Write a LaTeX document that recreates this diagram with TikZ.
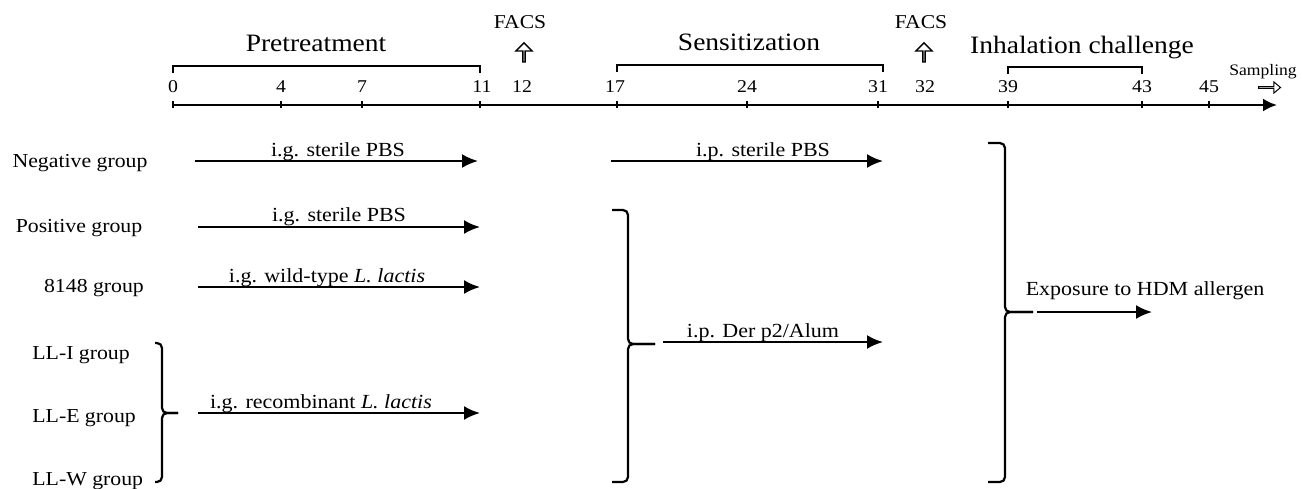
\documentclass[tikz,border=0pt]{standalone}
\usepackage{fontspec}
\setmainfont[FakeStretch=1.1]{Liberation Serif}
\usetikzlibrary{arrows.meta,shapes.arrows}

\begin{document}
\begin{tikzpicture}[x=0.5pt,y=-0.5pt]
% Styles
\tikzstyle{fleche}=[-{Latex[length=8pt,width=7pt]},line width=1.1pt]
\tikzstyle{axe}=[-{Latex[length=7pt,width=6.5pt]},line width=1.2pt]
\tikzstyle{graduation}=[line width=1pt]
\tikzstyle{periode}=[line width=1.2pt]
\tikzstyle{accolade}=[line width=1.1pt,rounded corners=2.5pt]
\tikzstyle{groupe}=[font=\fontsize{9.9pt}{12pt}\selectfont,anchor=base,inner sep=0pt]
\tikzstyle{etiquette}=[font=\fontsize{10pt}{12pt}\selectfont,anchor=base,inner sep=0pt]
\tikzstyle{titre}=[font=\fontsize{12.5pt}{15pt}\selectfont,anchor=base,inner sep=0pt]
\tikzstyle{jour}=[font=\fontsize{9pt}{11pt}\selectfont,anchor=base,inner sep=0pt]
\tikzstyle{facs}=[font=\fontsize{9.8pt}{12pt}\selectfont,anchor=base,inner sep=0pt]
\tikzstyle{prelevement}=[font=\fontsize{8pt}{10pt}\selectfont,anchor=base,inner sep=0pt]
\tikzstyle{creuse}=[draw,fill=white,single arrow,line width=0.7pt,inner sep=0pt,
  single arrow head extend=2.2pt,single arrow tip angle=90]
\useasboundingbox (0,0) rectangle (1302,488);
% Axe du temps
\coordinate (Debut) at (173,105);
\coordinate (Fin) at (1277,105);
\draw[axe] (Debut) -- (Fin);
\draw[graduation] (173,101) -- (173,108);
\draw[graduation] (281,101) -- (281,108);
\draw[graduation] (362,101) -- (362,108);
\draw[graduation] (480,101) -- (480,108);
\draw[graduation] (617,101) -- (617,108);
\draw[graduation] (747,101) -- (747,108);
\draw[graduation] (878,101) -- (878,108);
\draw[graduation] (1008,101) -- (1008,108);
\draw[graduation] (1142,101) -- (1142,108);
\draw[graduation] (1209,101) -- (1209,108);
\node[jour] (J0) at (173,92) {0};
\node[jour] (J4) at (281,92) {4};
\node[jour] (J7) at (362,92) {7};
\node[jour] (J11) at (482,92) {11};
\node[jour] (J12) at (522,92) {12};
\node[jour] (J17) at (615,92) {17};
\node[jour] (J24) at (747,92) {24};
\node[jour] (J31) at (878,92) {31};
\node[jour] (J32) at (925,92) {32};
\node[jour] (J39) at (1008,92) {39};
\node[jour] (J43) at (1142,92) {43};
\node[jour] (J45) at (1209,92) {45};
% Periodes
\draw[periode] (173,73) -- (173,66) -- (480,66) -- (480,73);
\draw[periode] (617,72) -- (617,65) -- (883,65) -- (883,72);
\draw[periode] (1008,74) -- (1008,67) -- (1142,67) -- (1142,74);
\node[titre] (Pre) at (316,51) {Pretreatment};
\node[titre] (Sens) at (749,50) {Sensitization};
\node[titre] (Inh) at (1082,53) {Inhalation challenge};
\node[facs] (FacsA) at (520,28) {FACS};
\node[facs] (FacsB) at (921,28) {FACS};
\node[creuse,rotate=90,minimum height=9.5pt,minimum width=8pt] (FlA) at (524,53) {};
\node[creuse,rotate=90,minimum height=9.5pt,minimum width=8pt] (FlB) at (924,53) {};
\node[prelevement] (Samp) at (1263,75) {Sampling};
\node[creuse,line width=0.5pt,minimum height=11pt,minimum width=5.5pt,
  single arrow head extend=1.3pt,single arrow tip angle=80] (FlC) at (1269,87.5) {};
% Groupes
\node[groupe] (Neg) at (80,167) {Negative group};
\node[groupe] (Pos) at (79,232) {Positive group};
\node[groupe] (G8148) at (94,292) {8148 group};
\node[groupe,anchor=base west] (LLI) at (32,359) {LL-I group};
\node[groupe,anchor=base west] (LLE) at (32,422) {LL-E group};
\node[groupe,anchor=base west] (LLW) at (32,485) {LL-W group};
% Accolades
\draw[accolade] (155,343) -- (162,343) -- (162,413) -- (178,413);
\draw[accolade] (155,482) -- (162,482) -- (162,413) -- (178,413);
\draw[accolade] (612,210) -- (628,210) -- (628,344) -- (655,344);
\draw[accolade] (612,482) -- (628,482) -- (628,344) -- (655,344);
\draw[accolade] (988,143) -- (1005,143) -- (1005,312) -- (1033,312);
\draw[accolade] (988,482) -- (1005,482) -- (1005,312) -- (1033,312);
% Fleches
\coordinate (NegA) at (195,161); \coordinate (NegB) at (478,161);
\coordinate (PosA) at (198,227); \coordinate (PosB) at (480,227);
\coordinate (WtA) at (198,287); \coordinate (WtB) at (480,287);
\coordinate (RecA) at (198,413); \coordinate (RecB) at (480,413);
\coordinate (IpA) at (611,161); \coordinate (IpB) at (883,161);
\coordinate (DerA) at (663,342); \coordinate (DerB) at (883,342);
\coordinate (HdmA) at (1037,312); \coordinate (HdmB) at (1152,312);
\draw[fleche] (NegA) -- (NegB);
\draw[fleche] (PosA) -- (PosB);
\draw[fleche] (WtA) -- (WtB);
\draw[fleche] (RecA) -- (RecB);
\draw[fleche] (IpA) -- (IpB);
\draw[fleche] (DerA) -- (DerB);
\draw[fleche] (HdmA) -- (HdmB);
\node[etiquette] (LNeg) at (338,156) {i.g. sterile PBS};
\node[etiquette] (LPos) at (339,221) {i.g. sterile PBS};
\node[etiquette] (LWt) at (327,282) {i.g. wild-type \textit{L. lactis}};
\node[etiquette] (LRec) at (321,408) {i.g. recombinant \textit{L. lactis}};
\node[etiquette] (LIp) at (763,156) {i.p. sterile PBS};
\node[etiquette] (LDer) at (763,337) {i.p. Der p2/Alum};
\node[etiquette] (LHdm) at (1145,295) {Exposure to HDM allergen};
\end{tikzpicture}
\end{document}
